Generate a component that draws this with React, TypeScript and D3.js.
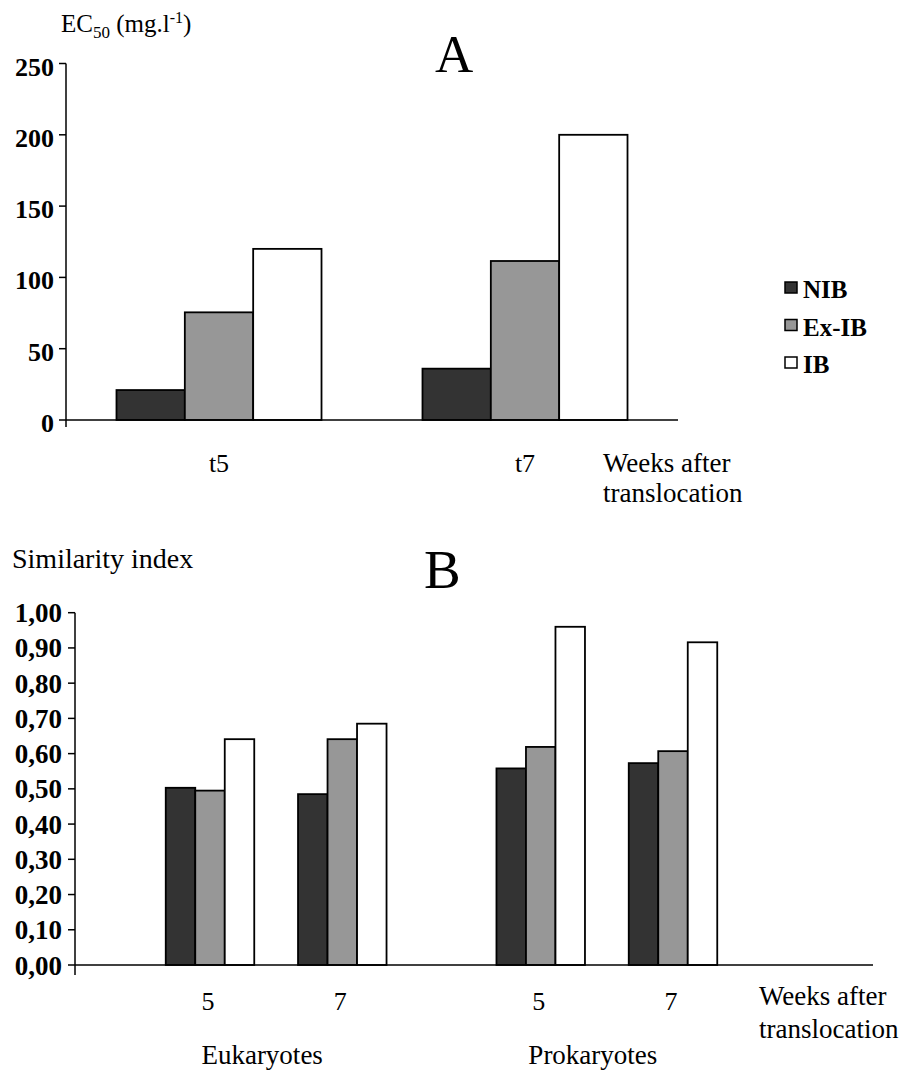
import React from "react";
import * as d3 from "d3";

// ---------- Data ----------
const seriesNames = ["NIB", "Ex-IB", "IB"];
const seriesColors = ["#333333", "#979797", "#ffffff"];

// Panel A: EC50 (mg/l)
const weeksA = ["t5", "t7"];
const ec50NIB = [21, 36];
const ec50ExIB = [75.5, 111.5];
const ec50IB = [120, 200];
const ticksA = [0, 50, 100, 150, 200, 250];

// Panel B: Similarity index
const groupsB = ["5", "7", "5", "7"];
const groupPosB = [0, 1, 2.5, 3.5];
const domainsB = ["Eukaryotes", "Prokaryotes"];
const domainPosB = [0.5, 3];
const simNIB = [0.503, 0.485, 0.558, 0.573];
const simExIB = [0.495, 0.641, 0.619, 0.607];
const simIB = [0.641, 0.685, 0.96, 0.916];
const ticksB = [0, 0.1, 0.2, 0.3, 0.4, 0.5, 0.6, 0.7, 0.8, 0.9, 1.0];

const FONT = "'Liberation Serif', 'Times New Roman', serif";

export default function App() {
  const W = 906;
  const H = 1077;

  // Panel A scales
  const axA = 66;
  const axAEnd = 678;
  const yA = d3.scaleLinear().domain([0, 250]).range([420, 63.5]);
  const xA = d3
    .scaleBand<string>()
    .domain(weeksA)
    .range([axA, axAEnd])
    .paddingInner(0.33)
    .paddingOuter(0.165);
  const xAInner = d3
    .scaleBand<string>()
    .domain(seriesNames)
    .range([0, xA.bandwidth()]);
  const valsA = [ec50NIB, ec50ExIB, ec50IB];

  // Panel B scales
  const axB = 75;
  const axBEnd = 873;
  const yB = d3.scaleLinear().domain([0, 1]).range([965, 612.7]);
  const xB = d3.scaleLinear().domain([0, 3.5]).range([210, 673]);
  const barWB = 29.5;
  const valsB = [simNIB, simExIB, simIB];
  const fmtB = (v: number) => d3.format(".2f")(v).replace(".", ",");

  return (
    <svg
      width={W}
      height={H}
      style={{ position: "absolute", left: 0, top: 0, background: "#fff" }}
      fontFamily={FONT}
    >
      <rect x={0} y={0} width={W} height={H} fill="#fff" />

      {/* ---------- Panel A ---------- */}
      <text x={61} y={32} fontSize={25}>
        EC<tspan fontSize={17} dy={6}>50</tspan>
        <tspan dy={-6}> (mg.l</tspan>
        <tspan fontSize={16} dy={-9}>-1</tspan>
        <tspan dy={9}>)</tspan>
      </text>
      <text x={435} y={72} fontSize={53}>
        A
      </text>

      {/* bars A */}
      {weeksA.map((w, gi) =>
        seriesNames.map((s, si) => {
          const v = valsA[si][gi];
          const x0 = (xA(w) ?? 0) + (xAInner(s) ?? 0);
          return (
            <rect
              key={w + s}
              x={x0}
              y={yA(v)}
              width={xAInner.bandwidth()}
              height={yA(0) - yA(v)}
              fill={seriesColors[si]}
              stroke="#000"
              strokeWidth={1.8}
            />
          );
        })
      )}

      {/* axes A */}
      <line x1={axA} x2={axA} y1={yA(250)} y2={427} stroke="#000" strokeWidth={1.5} />
      <line x1={axA} x2={axAEnd} y1={yA(0)} y2={yA(0)} stroke="#000" strokeWidth={1.5} />
      {ticksA.map((t) => (
        <g key={t}>
          <line x1={59} x2={axA} y1={yA(t)} y2={yA(t)} stroke="#000" strokeWidth={1.5} />
          <text
            x={54}
            y={yA(t) + 12}
            fontSize={26}
            textAnchor="end"
            fontWeight="bold"
          >
            {t}
          </text>
        </g>
      ))}
      {weeksA.map((w) => (
        <text
          key={w}
          x={(xA(w) ?? 0) + xA.bandwidth() / 2}
          y={472}
          fontSize={26}
          textAnchor="middle"
        >
          {w}
        </text>
      ))}
      <text x={603} y={472} fontSize={27}>
        Weeks after
      </text>
      <text x={603} y={502} fontSize={27}>
        translocation
      </text>

      {/* legend */}
      {seriesNames.map((s, i) => (
        <g key={s}>
          <rect
            x={785}
            y={282 + i * 37.5}
            width={12}
            height={11}
            fill={seriesColors[i]}
            stroke="#000"
            strokeWidth={1.5}
          />
          <text x={803} y={298 + i * 37.5} fontSize={25} fontWeight="bold">
            {s}
          </text>
        </g>
      ))}

      {/* ---------- Panel B ---------- */}
      <text x={12} y={568} fontSize={28}>
        Similarity index
      </text>
      <text x={424} y={588} fontSize={55}>
        B
      </text>

      {groupsB.map((g, gi) =>
        seriesNames.map((s, si) => {
          const v = valsB[si][gi];
          const cx = xB(groupPosB[gi]);
          const x0 = cx - (barWB * 3) / 2 + si * barWB;
          return (
            <rect
              key={gi + s}
              x={x0}
              y={yB(v)}
              width={barWB}
              height={yB(0) - yB(v)}
              fill={seriesColors[si]}
              stroke="#000"
              strokeWidth={1.8}
            />
          );
        })
      )}

      <line x1={axB} x2={axB} y1={yB(1)} y2={975} stroke="#000" strokeWidth={1.5} />
      <line x1={axB} x2={axBEnd} y1={yB(0)} y2={yB(0)} stroke="#000" strokeWidth={1.5} />
      {ticksB.map((t) => (
        <g key={t}>
          <line x1={68} x2={axB} y1={yB(t)} y2={yB(t)} stroke="#000" strokeWidth={1.5} />
          <text
            x={62}
            y={yB(t) + 9.5}
            fontSize={27}
            textAnchor="end"
            fontWeight="bold"
          >
            {fmtB(t)}
          </text>
        </g>
      ))}
      {groupsB.map((g, gi) => (
        <text
          key={gi}
          x={xB(groupPosB[gi]) - 2}
          y={1010}
          fontSize={26}
          textAnchor="middle"
        >
          {g}
        </text>
      ))}
      {domainsB.map((d, i) => (
        <text
          key={d}
          x={xB(domainPosB[i]) - 14}
          y={1064}
          fontSize={27}
          textAnchor="middle"
        >
          {d}
        </text>
      ))}
      <text x={759} y={1005} fontSize={27}>
        Weeks after
      </text>
      <text x={759} y={1038} fontSize={27}>
        translocation
      </text>
    </svg>
  );
}
